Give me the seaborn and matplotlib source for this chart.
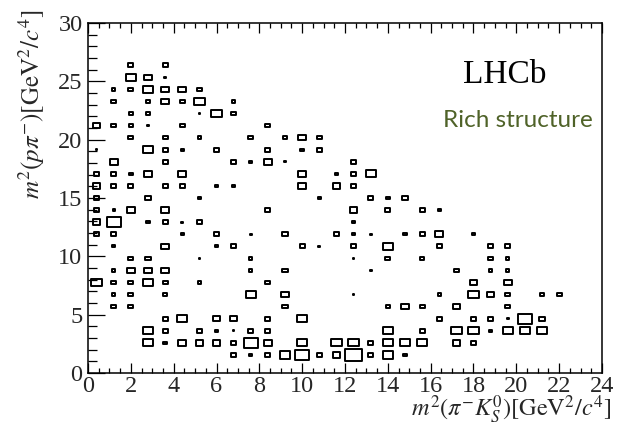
import numpy as np
import pandas as pd
import matplotlib
matplotlib.use("Agg")
import matplotlib.pyplot as plt
from matplotlib import font_manager
from matplotlib.path import Path
from matplotlib.ticker import MultipleLocator
import seaborn as sns

# Binning of the Dalitz-plane histogram
x_range = (0.0, 24.0)   # m^2(pi- KS0)
n_x_bins = 30
y_range = (0.0, 30.0)   # m^2(p pi-)
n_y_bins = 29

# Bin contents, one string per y bin from the top bin down to bin 0.
# Each character is one x bin: '.' = empty, otherwise a content code.
content_rows = [
    "..............................",
    "..............................",
    "..............................",
    "..3.3.........................",
    "..541.........................",
    ".235443.......................",
    ".3.2435.2.....................",
    "..22..153.....................",
    "4321.3....3...................",
    "..3.3.2..3.243................",
    "1..532.3..3.23................",
    ".4..3...3241...3..............",
    "3324.4......4.235.............",
    "433.33.22...4.43..............",
    "3..3..2......2..323...........",
    "314.4.....3....4.3.32.........",
    "46.2313........2..............",
    "33...2.3.1.3..321.234.2.......",
    ".2..4..23...31.3.5..3..33.....",
    "..33..1..2.....1.3.2...32.....",
    ".2444....2.3....1....3.22.....",
    "53353.2...3...........4.4.....",
    ".23.2....5.4...1....2.543.23..",
    ".33........3.....243.4..3.....",
    "....35.44.3.5.......3.33163...",
    "...53.32133......5.3.552555...",
    "...52444364.5.553555.43.......",
    "........32356347352...........",
    "..............................",
]
code_content = {"1": 1.0, "2": 2.0, "3": 3.0, "4": 4.5, "5": 6.0, "6": 8.0, "7": 10.0}

# Figure geometry (pixels)
W, H, DPI = 620, 425, 100
ax_left, ax_bottom, ax_w, ax_h = 88, 52, 514, 350

x_edges = np.linspace(*x_range, n_x_bins + 1)
y_edges = np.linspace(*y_range, n_y_bins + 1)
x_cent = 0.5 * (x_edges[:-1] + x_edges[1:])
y_cent = 0.5 * (y_edges[:-1] + y_edges[1:])

records = []
for r, row in enumerate(content_rows):
    j = n_y_bins - 1 - r
    for i, c in enumerate(row):
        if c != ".":
            records.append((x_cent[i], y_cent[j], code_content[c]))
df = pd.DataFrame(records, columns=["x", "y", "content"])

sns.set_style("ticks")
plt.rcParams["font.family"] = ["Liberation Serif", "DejaVu Serif"]
plt.rcParams["mathtext.fontset"] = "stix"

fig = plt.figure(figsize=(W / DPI, H / DPI), dpi=DPI)
ax = fig.add_axes([ax_left / W, ax_bottom / H, ax_w / W, ax_h / H])

# ROOT-style box drawing: a rectangle with the cell's aspect, side ~ content
cell_w_px = ax_w / n_x_bins
cell_h_px = ax_h / n_y_bins
hw, hh = cell_w_px / 2, cell_h_px / 2
box = Path([(-hw, -hh), (hw, -hh), (hw, hh), (-hw, hh), (-hw, -hh)],
           [Path.MOVETO, Path.LINETO, Path.LINETO, Path.LINETO, Path.CLOSEPOLY])
cmax = df["content"].max()
cell_w_pt = cell_w_px * 72 / DPI
size_map = {v: (v / cmax * cell_w_pt) ** 2 for v in np.unique(df["content"])}

sns.scatterplot(data=df, x="x", y="y", size="content", sizes=size_map,
                marker=box, facecolor="none", edgecolor="black",
                linewidth=1.4, legend=False, ax=ax)

ax.set_xlim(*x_range)
ax.set_ylim(*y_range)
ax.xaxis.set_major_locator(MultipleLocator(2))
ax.xaxis.set_minor_locator(MultipleLocator(0.5))
ax.yaxis.set_major_locator(MultipleLocator(5))
ax.yaxis.set_minor_locator(MultipleLocator(1))

for s in ax.spines.values():
    s.set_linewidth(1.1)
    s.set_color("black")

ax.tick_params(axis="x", which="both", direction="in", top=True, bottom=True,
               labelsize=17.5, pad=2.5, width=0.9, color="black")
ax.tick_params(axis="x", which="major", length=7.5)
ax.tick_params(axis="x", which="minor", length=3.5)
ax.tick_params(axis="y", which="both", direction="in", left=True, right=False,
               labelsize=17.5, pad=4, width=0.9, color="black")
ax.tick_params(axis="y", which="major", length=12.5)
ax.tick_params(axis="y", which="minor", length=6.3)

ax.set_xlabel(r"$m^{2}(\pi^{-}K^{0}_{S})[\mathrm{GeV}^{2}/c^{4}]$",
              fontsize=17.5, loc="right")
ax.xaxis.set_label_coords((611 - ax_left) / ax_w, (373 - 417) / ax_h)
ax.xaxis.label.set_verticalalignment("baseline")
ax.set_ylabel(r"$m^{2}(p\pi^{-})[\mathrm{GeV}^{2}/c^{4}]$",
              fontsize=18, loc="top")
ax.yaxis.set_label_coords(-0.08, 1.037)

ax.text(0.7296, 0.8286, "LHCb", transform=ax.transAxes, fontsize=24,
        ha="left", va="baseline", color="black")

installed = {f.name for f in font_manager.fontManager.ttflist}
if "Liberation Sans Narrow" in installed:
    note_family, note_size = ["Liberation Sans Narrow", "DejaVu Sans"], 20.5
else:
    note_family, note_size = ["Lato", "DejaVu Sans"], 17.5
ax.text(0.6907, (373 - 127) / ax_h, "Rich structure", transform=ax.transAxes,
        fontsize=note_size, family=note_family,
        ha="left", va="baseline", color="#4F6228")

fig.savefig("out.png", dpi=DPI)
